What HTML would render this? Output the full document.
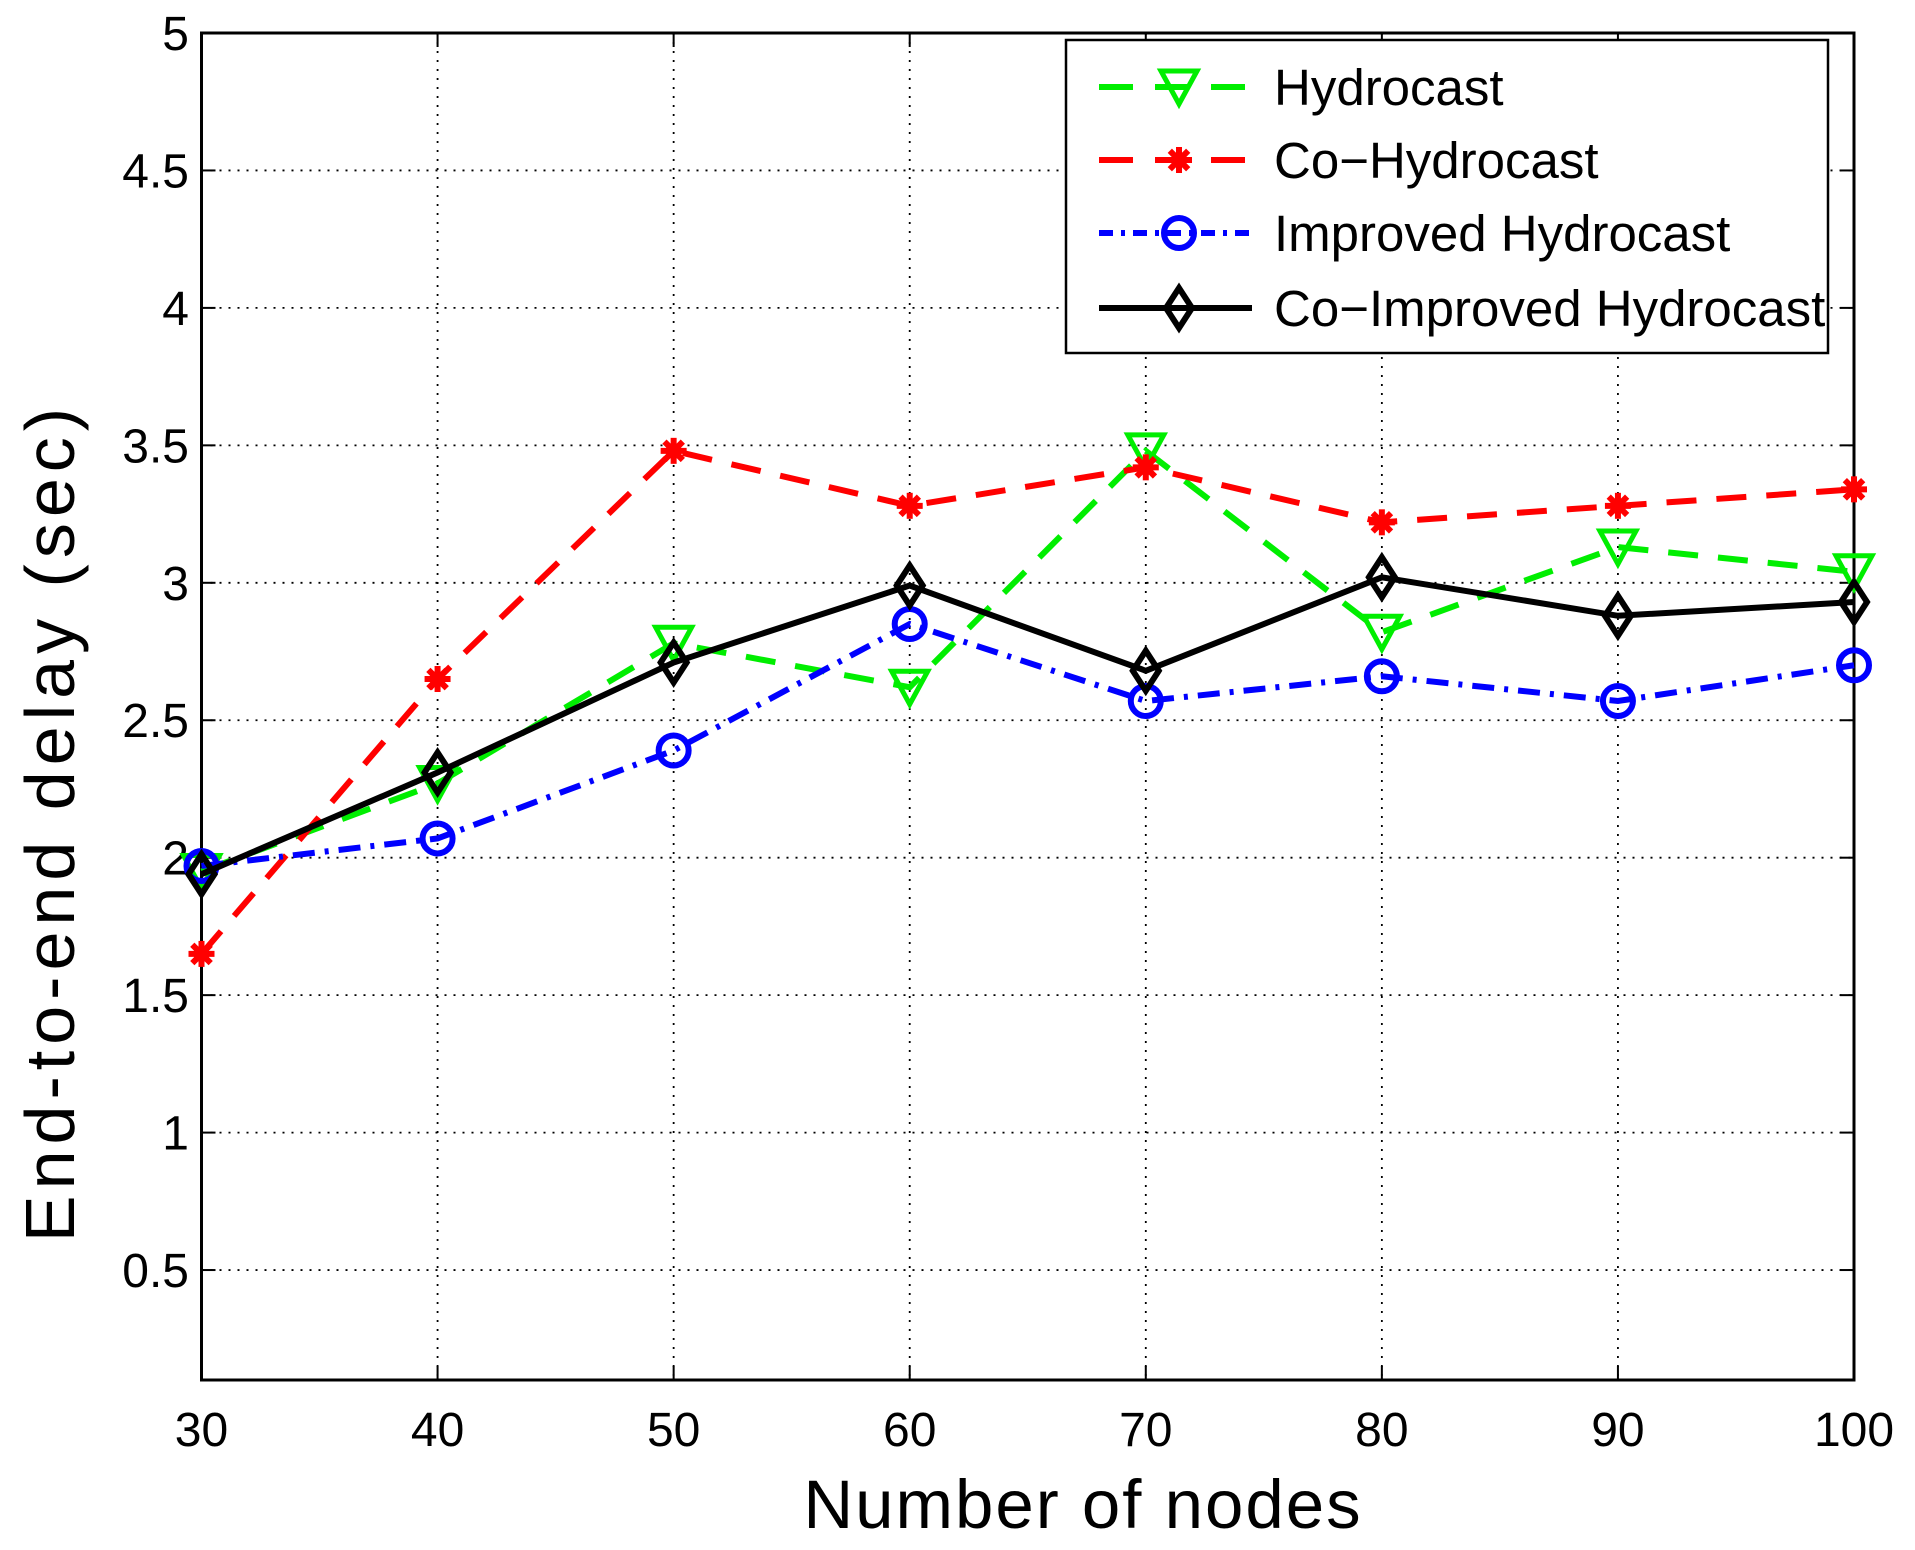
<!DOCTYPE html>
<html><head><meta charset="utf-8"><style>
html,body{margin:0;padding:0;background:#fff;}
svg{display:block;font-family:"Liberation Sans",sans-serif;}
</style></head><body>
<svg id="chart" width="1915" height="1550" viewBox="0 0 1915 1550" xmlns="http://www.w3.org/2000/svg"></svg>
<script>
const xCats = [30,40,50,60,70,80,90,100];
const yTicks = [0.5,1,1.5,2,2.5,3,3.5,4,4.5,5];
const yTickLabels = ["0.5","1","1.5","2","2.5","3","3.5","4","4.5","5"];
const hydrocast = [1.95,2.27,2.78,2.62,3.48,2.82,3.13,3.04];
const coHydrocast = [1.65,2.65,3.48,3.28,3.42,3.22,3.28,3.34];
const improvedHydrocast = [1.97,2.07,2.39,2.85,2.57,2.66,2.57,2.70];
const coImprovedHydrocast = [1.94,2.31,2.71,2.99,2.68,3.02,2.88,2.93];

const L=201.5,R=1854,T=33,B=1380, xMin=30,xMax=100,yMin=0.1,yMax=5;
const sx=v=>L+(v-xMin)/(xMax-xMin)*(R-L);
const sy=v=>B-(v-yMin)/(yMax-yMin)*(B-T);
const svg=document.getElementById('chart');
const NS='http://www.w3.org/2000/svg';
function mk(tag,attrs,parent){const e=document.createElementNS(NS,tag);for(const k in attrs)e.setAttribute(k,attrs[k]);(parent||svg).appendChild(e);return e;}

const grid=mk('g',{});


xCats.forEach(v=>{if(v>xMin&&v<xMax)mk('line',{x1:sx(v),x2:sx(v),y1:T,y2:B,stroke:'#000','stroke-width':1.8,'stroke-dasharray':'2,7'},grid);});
yTicks.forEach(v=>{if(v<yMax)mk('line',{x1:L,x2:R,y1:sy(v),y2:sy(v),stroke:'#000','stroke-width':1.8,'stroke-dasharray':'2,7'},grid);});

const box=mk('rect',{x:L,y:T,width:R-L,height:B-T,fill:'none',stroke:'#000','stroke-width':3});


xCats.forEach(v=>{mk('line',{x1:sx(v),x2:sx(v),y1:B,y2:B-14,stroke:'#000','stroke-width':2});mk('line',{x1:sx(v),x2:sx(v),y1:T,y2:T+14,stroke:'#000','stroke-width':2});
 const t=mk('text',{x:sx(v),y:1446,'font-size':48,'text-anchor':'middle'});t.textContent=v;
 
 });
yTicks.forEach((v,i)=>{mk('line',{x1:L,x2:L+14,y1:sy(v),y2:sy(v),stroke:'#000','stroke-width':2});mk('line',{x1:R,x2:R-14,y1:sy(v),y2:sy(v),stroke:'#000','stroke-width':2});
 const t=mk('text',{x:189,y:sy(v)+17,'font-size':48,'text-anchor':'end'});t.textContent=yTickLabels[i];
 
 });

const xt=mk('text',{x:1083,y:1528,'font-size':69,'text-anchor':'middle','letter-spacing':'2'});xt.textContent='Number of nodes';


const yt=mk('text',{x:0,y:0,'font-size':70,'text-anchor':'middle','letter-spacing':'6',transform:'translate(74,822) rotate(-90)'});yt.textContent='End-to-end delay (sec)';



function marker(type,x,y,color,g){
 if(type==='tri'){mk('path',{d:`M${x-18},${y-16} L${x+18},${y-16} L${x},${y+17} Z`,fill:'none',stroke:color,'stroke-width':5},g);}
 else if(type==='star'){for(let a=0;a<4;a++){const r=a*Math.PI/4;mk('line',{x1:x-13*Math.cos(r),y1:y-13*Math.sin(r),x2:x+13*Math.cos(r),y2:y+13*Math.sin(r),stroke:color,'stroke-width':6},g);}mk('circle',{cx:x,cy:y,r:8,fill:color},g);}
 else if(type==='circ'){mk('circle',{cx:x,cy:y,r:15,fill:'none',stroke:color,'stroke-width':6},g);}
 else if(type==='dia'){mk('path',{d:`M${x},${y-20} L${x+13},${y} L${x},${y+20} L${x-13},${y} Z`,fill:'none',stroke:color,'stroke-width':6},g);}
}
const series=[
 {name:'Hydrocast',data:hydrocast,color:'#00ee00',dash:'30,20',m:'tri',id:'series-hydrocast'},
 {name:'Co\u2212Hydrocast',data:coHydrocast,color:'#ff0000',dash:'30,20',m:'star',id:'series-co-hydrocast'},
 {name:'Improved Hydrocast',data:improvedHydrocast,color:'#0000ff',dash:'22,10,4,10',m:'circ',id:'series-improved-hydrocast'},
 {name:'Co\u2212Improved Hydrocast',data:coImprovedHydrocast,color:'#000000',dash:'none',m:'dia',id:'series-co-improved-hydrocast'}];
series.forEach(s=>{
 const g=mk('g',{});
 
 
 mk('polyline',{points:s.data.map((v,i)=>sx(xCats[i])+','+sy(v)).join(' '),fill:'none',stroke:s.color,'stroke-width':6,'stroke-dasharray':s.dash},g);
 s.data.forEach((v,i)=>marker(s.m,sx(xCats[i]),sy(v),s.color,g));
});

const lg=mk('g',{});


mk('rect',{x:1066,y:40,width:762,height:313,fill:'#fff',stroke:'#000','stroke-width':2.5},lg);
const ly=[87,160,233,308];
series.forEach((s,i)=>{
 const e=mk('g',{},lg);
 
 
 mk('line',{x1:1099,x2:1252,y1:ly[i],y2:ly[i],stroke:s.color,'stroke-width':6,'stroke-dasharray':s.dash==='none'?'none':(s.m==='circ'?'14,8,4,8':'34,22')},e);
 marker(s.m,1179,ly[i],s.color,e);
 const t=mk('text',{x:1274,y:ly[i]+18,'font-size':51},e);t.textContent=s.name;
});
</script>
</body></html>
